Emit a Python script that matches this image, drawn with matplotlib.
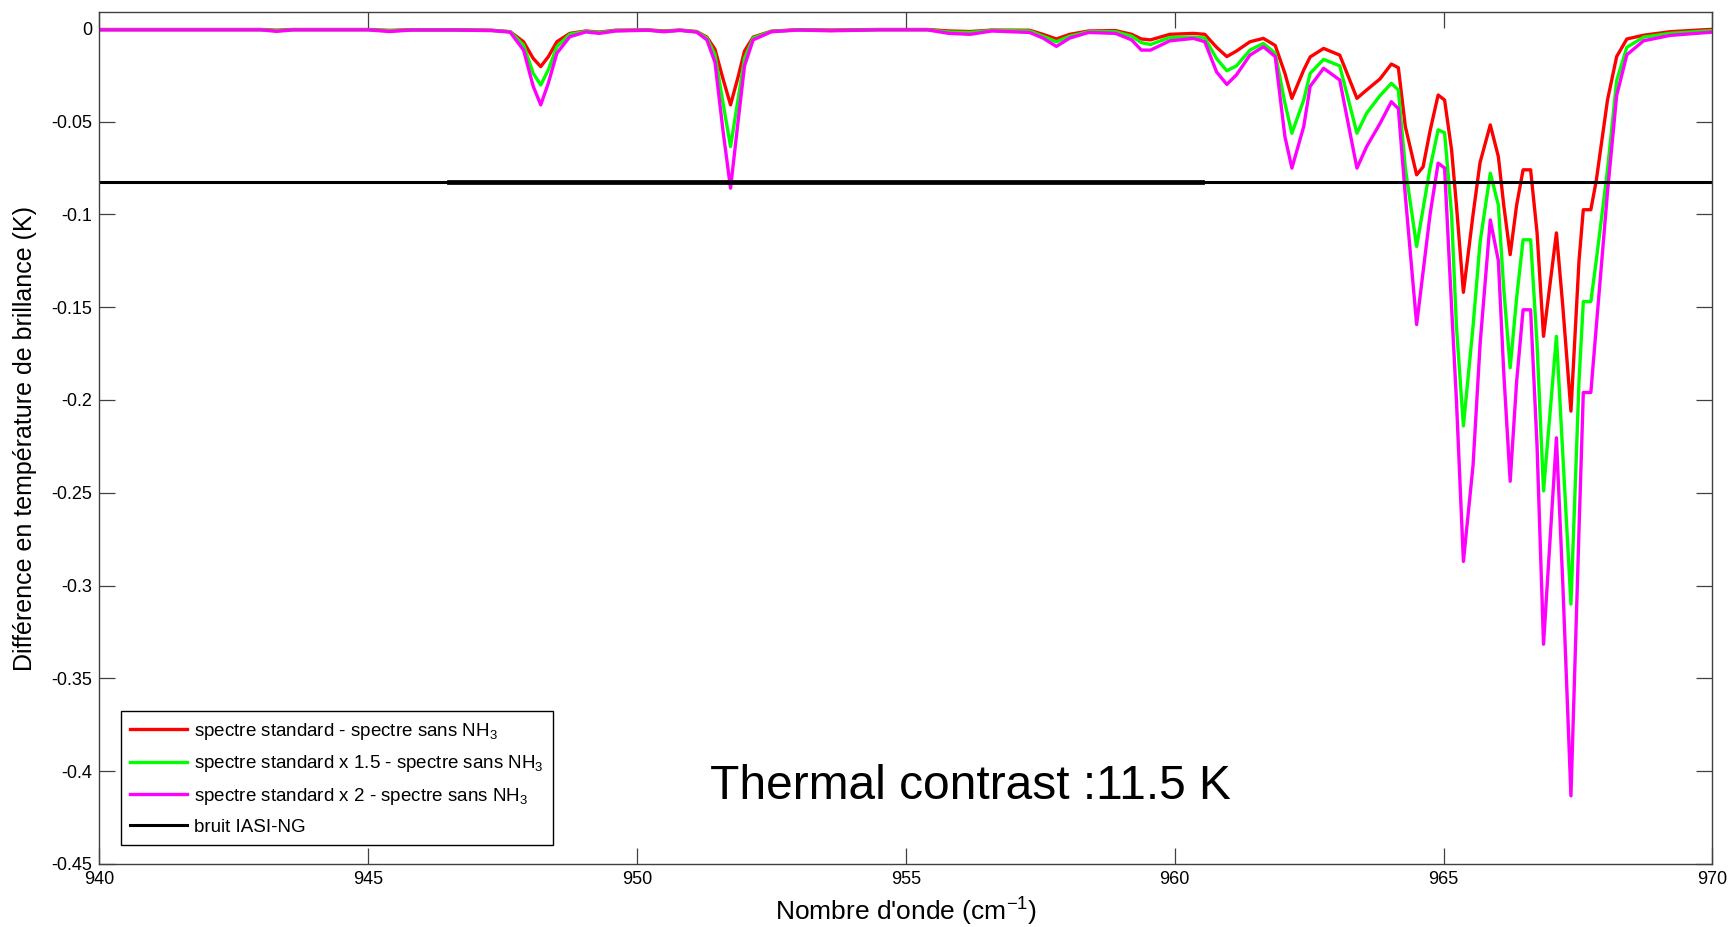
import numpy as np
import matplotlib
matplotlib.use('Agg')
import matplotlib.pyplot as plt

plt.rcParams['font.family'] = ['Liberation Sans', 'DejaVu Sans']
plt.rcParams['mathtext.default'] = 'regular'
plt.rcParams['axes.unicode_minus'] = False

# wavenumber grid (cm-1)
wavenumber = [940.0, 941.5, 943.0, 943.3, 943.6, 945.0, 945.4, 945.8, 946.6, 947.3,
              947.64, 947.89, 948.07, 948.21, 948.35, 948.51, 948.75, 949.05, 949.3, 949.6,
              950.2, 950.5, 950.8, 951.11, 951.30, 951.45, 951.60, 951.74, 951.88, 952.0,
              952.16, 952.5, 953.0, 953.6, 954.5, 955.4, 955.8, 956.2, 956.6, 957.3,
              957.55, 957.8, 958.05, 958.4, 958.9, 959.2, 959.38, 959.55, 959.91, 960.35,
              960.56, 960.78, 960.97, 961.15, 961.40, 961.65, 961.87, 962.05, 962.18, 962.40,
              962.52, 962.77, 963.07, 963.22, 963.39, 963.57, 963.82, 964.03, 964.16, 964.29,
              964.50, 964.62, 964.75, 964.90, 965.02, 965.15, 965.24, 965.37, 965.55, 965.68,
              965.87, 966.02, 966.12, 966.24, 966.36, 966.48, 966.62, 966.74, 966.86, 967.10,
              967.22, 967.37, 967.52, 967.60, 967.74, 967.84, 968.05, 968.22, 968.41, 968.72,
              969.21, 970.0]

diff_x1 = [-0.0004, -0.0004, -0.0004, -0.0008, -0.0004, -0.0004, -0.0009, -0.0005, -0.0005, -0.0008,
           -0.0016, -0.007, -0.016, -0.0204, -0.0151, -0.007, -0.0025, -0.0012, -0.0018, -0.0008,
           -0.0006, -0.0012, -0.0007, -0.0015, -0.0045, -0.011, -0.027, -0.041, -0.026, -0.012,
           -0.0045, -0.0013, -0.0005, -0.0007, -0.0004, -0.0004, -0.0012, -0.0015, -0.0007, -0.0008,
           -0.003, -0.0055, -0.003, -0.0012, -0.001, -0.003, -0.0055, -0.006, -0.003, -0.0025,
           -0.003, -0.010, -0.015, -0.012, -0.007, -0.0052, -0.009, -0.024, -0.0375, -0.0222,
           -0.0152, -0.0106, -0.0142, -0.025, -0.0375, -0.033, -0.027, -0.019, -0.021, -0.0527,
           -0.0787, -0.0744, -0.055, -0.0357, -0.0384, -0.0652, -0.095, -0.142, -0.100, -0.072,
           -0.0518, -0.0689, -0.095, -0.1217, -0.095, -0.076, -0.076, -0.110, -0.1657, -0.110,
           -0.150, -0.206, -0.125, -0.0975, -0.0975, -0.082, -0.0384, -0.015, -0.0055, -0.0035,
           -0.0016, -0.0003]

diff_x15 = [-0.0005, -0.0005, -0.0005, -0.001, -0.0005, -0.0005, -0.0011, -0.0006, -0.0006, -0.0009,
            -0.0016, -0.0088, -0.024, -0.0303, -0.0222, -0.0097, -0.003, -0.0014, -0.002, -0.001,
            -0.0007, -0.0014, -0.0008, -0.0016, -0.005, -0.014, -0.040, -0.0635, -0.038, -0.016,
            -0.005, -0.0014, -0.0006, -0.0009, -0.0005, -0.0005, -0.0018, -0.002, -0.0009, -0.0012,
            -0.004, -0.007, -0.004, -0.0016, -0.0016, -0.004, -0.0075, -0.0085, -0.0047, -0.0045,
            -0.005, -0.0161, -0.0226, -0.020, -0.0115, -0.0079, -0.0132, -0.040, -0.0563, -0.0384,
            -0.024, -0.0165, -0.020, -0.037, -0.0563, -0.0455, -0.036, -0.0294, -0.033, -0.075,
            -0.1173, -0.097, -0.075, -0.0545, -0.056, -0.100, -0.160, -0.214, -0.160, -0.115,
            -0.0778, -0.095, -0.140, -0.1827, -0.145, -0.1137, -0.1137, -0.170, -0.249, -0.1657,
            -0.230, -0.310, -0.190, -0.147, -0.147, -0.125, -0.076, -0.028, -0.010, -0.0045,
            -0.0025, -0.0010]

diff_x2 = [-0.0006, -0.0006, -0.0006, -0.0014, -0.0006, -0.0006, -0.0015, -0.0007, -0.0007, -0.001,
           -0.0018, -0.0115, -0.031, -0.041, -0.0294, -0.0132, -0.0043, -0.0017, -0.0025, -0.0012,
           -0.0008, -0.0016, -0.0009, -0.0018, -0.006, -0.018, -0.055, -0.0859, -0.050, -0.020,
           -0.006, -0.0016, -0.0007, -0.0011, -0.0006, -0.0006, -0.0025, -0.003, -0.0012, -0.002,
           -0.005, -0.0095, -0.005, -0.002, -0.0025, -0.006, -0.0115, -0.0115, -0.0065, -0.0052,
           -0.007, -0.0233, -0.030, -0.0248, -0.0142, -0.0097, -0.015, -0.058, -0.0751, -0.0527,
           -0.031, -0.0213, -0.0276, -0.050, -0.0751, -0.0635, -0.051, -0.0393, -0.043, -0.090,
           -0.1594, -0.131, -0.100, -0.0724, -0.075, -0.150, -0.200, -0.287, -0.235, -0.170,
           -0.103, -0.125, -0.185, -0.2438, -0.190, -0.1514, -0.1514, -0.225, -0.3316, -0.2204,
           -0.300, -0.4133, -0.270, -0.196, -0.196, -0.161, -0.088, -0.036, -0.014, -0.0065,
           -0.0036, -0.0018]

noise_level = -0.0823
noise_x = [940, 970]
noise_x_thick = [946.5, 960.5]

labels = ['spectre standard - spectre sans NH$_3$',
          'spectre standard x 1.5 - spectre sans NH$_3$',
          'spectre standard x 2 - spectre sans NH$_3$',
          'bruit IASI-NG']

x_ticks = [940, 945, 950, 955, 960, 965, 970]
y_ticks = [0, -0.05, -0.1, -0.15, -0.2, -0.25, -0.3, -0.35, -0.4, -0.45]
y_ticklabels = ['0', '-0.05', '-0.1', '-0.15', '-0.2', '-0.25', '-0.3', '-0.35', '-0.4', '-0.45']


def plot():
    fig = plt.figure(figsize=(17.3, 9.27), dpi=100)
    ax = fig.add_axes([0.0574, 0.068, 0.9324, 0.919])

    ax.plot(wavenumber, diff_x1, color='#ff0000', linewidth=2.4, label=labels[0])
    ax.plot(wavenumber, diff_x15, color='#00ff00', linewidth=2.4, label=labels[1])
    ax.plot(wavenumber, diff_x2, color='#ff00ff', linewidth=2.4, label=labels[2])
    ax.plot(noise_x, [noise_level] * 2, color='black', linewidth=2.2, label=labels[3])
    ax.plot(noise_x_thick, [noise_level - 0.0003] * 2, color='black', linewidth=3.4)

    ax.set_xlim(940, 970)
    ax.set_ylim(-0.45, 0.009)
    ax.set_xticks(x_ticks)
    ax.set_xticklabels([str(t) for t in x_ticks])
    ax.set_yticks(y_ticks)
    ax.set_yticklabels(y_ticklabels)
    ax.tick_params(direction='in', length=11.5, width=0.9, color='#404040',
                   top=True, right=True, labelsize=13, pad=5)
    for s in ax.spines.values():
        s.set_color('#404040')
        s.set_linewidth(1.0)

    ax.set_xlabel("Nombre d'onde (cm$^{-1}$)", fontsize=19, labelpad=6)
    ax.set_ylabel('Différence en température de brillance (K)', fontsize=18, labelpad=10)

    leg = ax.legend(loc='lower left', bbox_to_anchor=(0.0135, 0.0223), borderaxespad=0,
                    fontsize=13.5, handlelength=3.0, handletextpad=0.4, labelspacing=0.62,
                    fancybox=False, framealpha=1, edgecolor='black', borderpad=0.5)
    leg.get_frame().set_linewidth(1.0)

    fig.text(0.561, 0.152, 'Thermal contrast :11.5 K', fontsize=34.5, ha='center', va='center')

    plt.savefig('out.png', dpi=100)
    plt.close(fig)


plot()
